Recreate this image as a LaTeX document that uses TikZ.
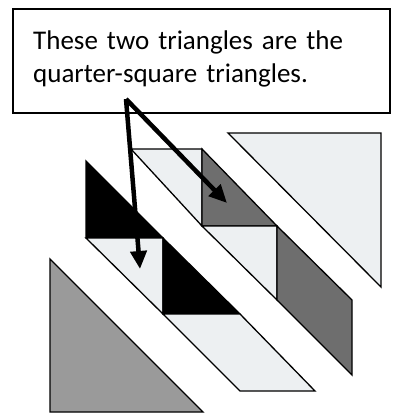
\documentclass[tikz,border=0pt]{standalone}
\usepackage{fontspec}
\setmainfont{Carlito}
\usetikzlibrary{arrows.meta}
\definecolor{lightfill}{HTML}{EDF0F2}
\definecolor{darkfill}{HTML}{6E6E6E}
\definecolor{midfill}{HTML}{9A9A9A}
\begin{document}
\begin{tikzpicture}[x=1pt,y=-1pt,
  piece/.style={draw=black,line width=1.3pt,line join=miter},
  pointer/.style={line width=4.5pt,-{Triangle[length=18pt,width=16pt]}}]
\useasboundingbox (0,0) rectangle (393,413);
% top-right light triangle
\filldraw[piece,fill=lightfill] (228,133) -- (381,133) -- (381,287) -- cycle;
% bottom-left gray triangle
\filldraw[piece,fill=midfill] (50,259) -- (50,412) -- (203,412) -- cycle;
% upper strip
\filldraw[piece,fill=lightfill] (131,149) -- (202,149) -- (202,226) -- cycle;
\filldraw[piece,fill=darkfill] (202,149) -- (202,226) -- (277,226) -- cycle;
\filldraw[piece,fill=lightfill] (202,226) -- (277,226) -- (277,300) -- cycle;
\filldraw[piece,fill=darkfill] (277,226) -- (352,300) -- (352,375) -- (277,300) -- cycle;
% lower strip
\filldraw[piece,fill=black] (86,161) -- (86,238) -- (163,238) -- cycle;
\filldraw[piece,fill=lightfill] (86,238) -- (163,238) -- (163,314) -- cycle;
\filldraw[piece,fill=black] (163,238) -- (163,314) -- (240,314) -- cycle;
\filldraw[piece,fill=lightfill] (163,314) -- (240,314) -- (315,391) -- (240,391) -- cycle;
% text box
\node[draw=black,line width=1.3pt,minimum width=377pt,minimum height=104pt,
  inner sep=0pt,fill=white] (box) at (201.5,61) {};
\node[text width=345pt,align=left,inner sep=0pt,anchor=north west,
  font=\fontsize{27}{33}\selectfont] (label) at (33,31)
  {These two triangles are the\\quarter-square triangles.};
% arrows
\coordinate (src) at (126,99);
\coordinate (tipA) at (140,269);
\coordinate (tipB) at (227,203);
\draw[pointer] (src) -- (tipA);
\draw[pointer] (src) -- (tipB);
\end{tikzpicture}
\end{document}
